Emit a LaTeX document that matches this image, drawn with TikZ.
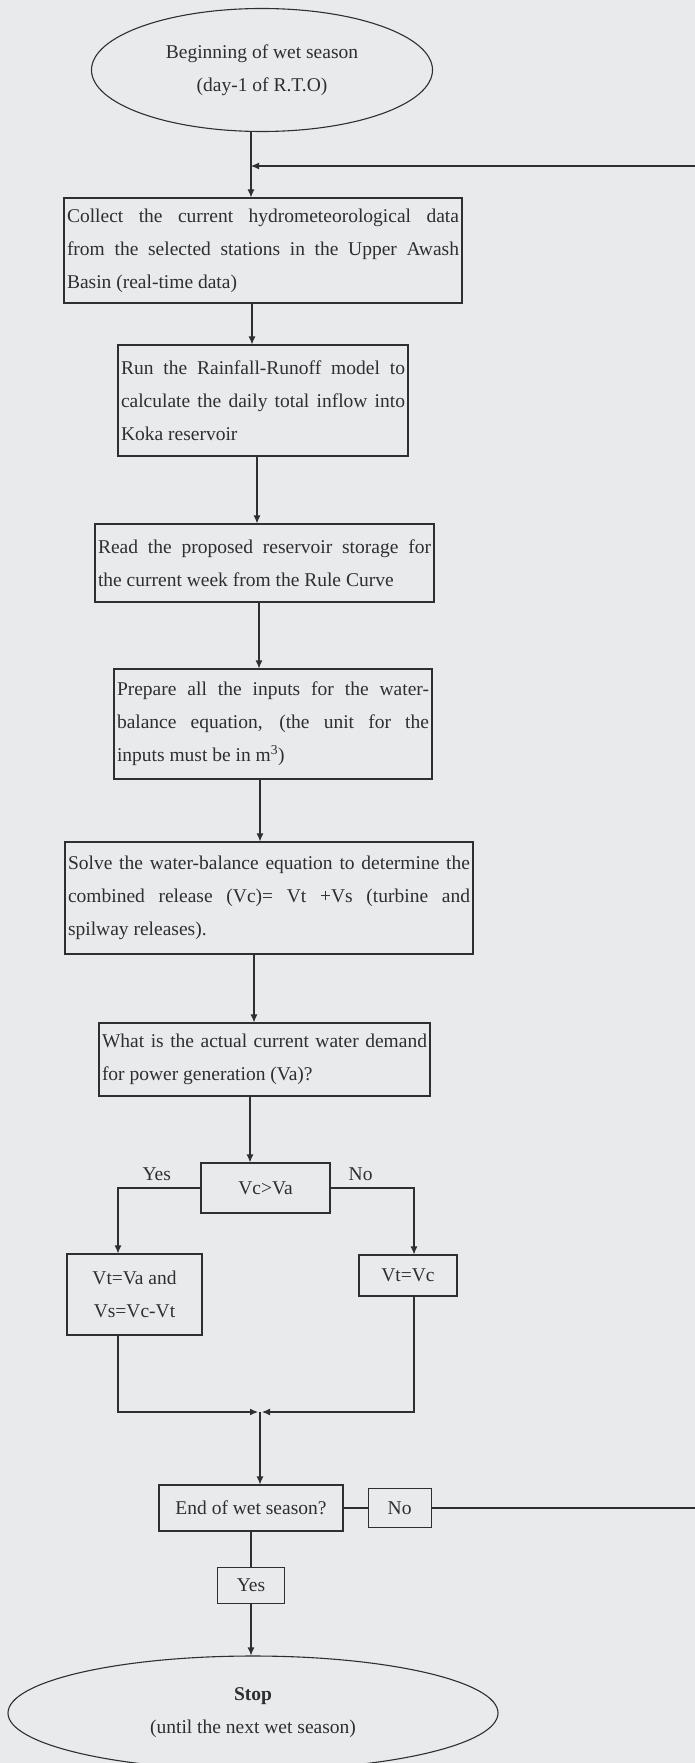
\documentclass[tikz,border=0pt]{standalone}
\usepackage{fontspec}
\setmainfont{Liberation Serif}
\usetikzlibrary{shapes.geometric,arrows.meta,positioning}
\definecolor{paper}{RGB}{233,234,236}
\definecolor{ink}{RGB}{44,48,48}
\tikzset{
  box/.style={rectangle,draw=ink,line width=1.1pt,text=ink,align=justify,
              inner xsep=3pt,inner ysep=2pt,font=\fontsize{19.5}{33}\selectfont},
  cbox/.style={box,align=center},
  term/.style={ellipse,draw=ink,line width=1.1pt,text=ink,align=center,inner sep=0pt,
               font=\fontsize{19.5}{33}\selectfont},
  lbl/.style={text=ink,font=\fontsize{19.5}{33}\selectfont},
  fl/.style={-{Latex[length=8pt,width=7pt]},draw=ink,line width=1.1pt},
  ln/.style={draw=ink,line width=1.1pt},
}
\begin{document}
\begin{tikzpicture}[x=1pt,y=-1pt]
  \fill[paper] (0,0) rectangle (695,1763);
  \path[use as bounding box,clip] (0,0) rectangle (695,1763);
  % main column
  \node[term,minimum width=341pt,minimum height=123pt] (start) at (262,70)
    {Beginning of wet season\\(day-1 of R.T.O)};
  \node[box,text width=392pt,minimum height=105pt] (collect) at (263,250.5)
    {Collect the current hydrometeorological data\linebreak from the selected stations in the Upper Awash\linebreak Basin (real-time data)};
  \node[box,text width=284pt,minimum height=111pt] (runoff) at (263,400.5)
    {Run the Rainfall-Runoff model to\linebreak calculate the daily total inflow into\linebreak Koka reservoir};
  \node[box,text width=333pt,minimum height=78pt] (rulecurve) at (264.5,563)
    {Read the proposed reservoir storage for\linebreak the current week from the Rule Curve};
  \node[box,text width=312pt,minimum height=110pt] (inputs) at (273,724)
    {Prepare all the inputs for the water-\linebreak balance equation, (the unit for the\linebreak inputs must be in m\textsuperscript{3})};
  \node[box,text width=402pt,minimum height=112pt] (solve) at (269,898)
    {Solve the water-balance equation to determine the\linebreak combined release (Vc)= Vt +Vs (turbine and\linebreak spilway releases).};
  \node[box,text width=325pt,minimum height=73pt] (demand) at (264.5,1059.5)
    {What is the actual current water demand\linebreak for power generation (Va)?};
  % decision and branches
  \node[cbox,minimum width=129pt,minimum height=50pt] (compare) at (265.5,1188) {Vc>Va};
  \node[cbox,minimum width=135pt,minimum height=81pt] (release) at (134.5,1294.5) {Vt=Va and\\Vs=Vc-Vt};
  \node[cbox,minimum width=98pt,minimum height=41pt] (turbine) at (408,1275.5) {Vt=Vc};
  \coordinate (merge) at (260,1412);
  \node[cbox,minimum width=184pt,minimum height=46pt] (endcheck) at (251,1508) {End of wet season?};
  \node[cbox,minimum width=63pt,minimum height=39pt,right=24pt of endcheck] (nolbl) {No};
  \node[cbox,minimum width=67pt,minimum height=36pt,below=35pt of endcheck] (yeslbl) {Yes};
  \node[term,minimum width=490pt,minimum height=114pt] (stop) at (253,1713)
    {\textbf{Stop}\\(until the next wet season)};
  % loop back
  \coordinate (join) at (251,166);
  \coordinate (rim) at (703,166);
  % connectors
  \draw[fl] (start.south -| join) -- (collect.north -| join);
  \draw[fl] (nolbl) -- (nolbl -| rim) -- (rim) -- (join);
  \draw[fl] ([xshift=-11pt]collect.south) -- ([xshift=-11pt]runoff.north);
  \draw[fl] ([xshift=-6pt]runoff.south) -- ([xshift=-7.5pt]rulecurve.north);
  \draw[fl] ([xshift=-5.5pt]rulecurve.south) -- ([xshift=-14pt]inputs.north);
  \draw[fl] ([xshift=-13pt]inputs.south) -- ([xshift=-9pt]solve.north);
  \draw[fl] ([xshift=-15pt]solve.south) -- ([xshift=-10.5pt]demand.north);
  \draw[fl] ([xshift=-14.5pt]demand.south) -- ([xshift=-15.5pt]compare.north);
  \draw[fl] (compare.west) -| node[lbl,above=3pt,pos=0.265]{Yes} ([xshift=-16.5pt]release.north);
  \draw[fl] (compare.east) -| node[lbl,above=3pt,pos=0.18]{No} ([xshift=6pt]turbine.north);
  \draw[fl] ([xshift=-16.5pt]release.south) |- ([xshift=-2pt]merge);
  \draw[fl] ([xshift=6pt]turbine.south) |- ([xshift=2pt]merge);
  \draw[fl] (merge) -- (merge |- endcheck.north);
  \draw[ln] (endcheck) -- (nolbl);
  \draw[ln] (yeslbl.north |- endcheck.south) -- (yeslbl.north);
  \draw[fl] (yeslbl.south) -- (yeslbl.south |- stop.north);
\end{tikzpicture}
\end{document}
